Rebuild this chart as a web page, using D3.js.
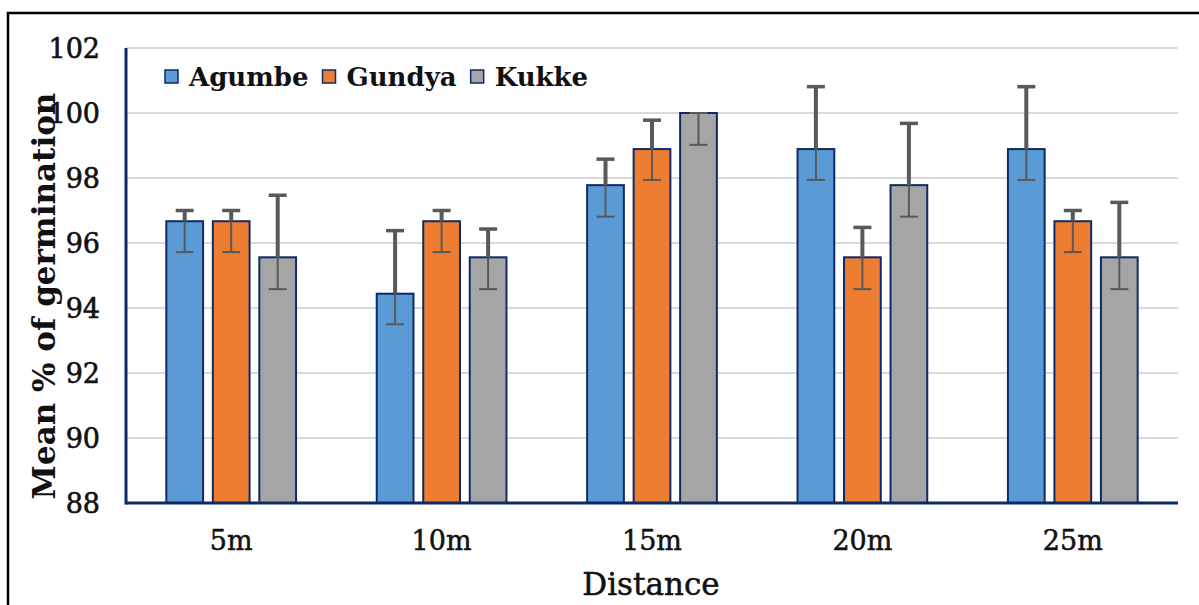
<!DOCTYPE html>
<html><head><meta charset="utf-8">
<script src="https://cdn.jsdelivr.net/npm/d3@7"></script>
<style>body{margin:0;background:#fff}svg{display:block}</style>
</head><body>
<svg id="c" width="1199" height="605"></svg>
<script>
const categories = ["5m","10m","15m","20m","25m"];
const seriesNames = ["Agumbe","Gundya","Kukke"];
const agumbe = [96.67, 94.44, 97.78, 98.89, 98.89];
const gundya = [96.67, 96.67, 98.89, 95.56, 96.67];
const kukke  = [95.56, 95.56, 100.0, 97.78, 95.56];
const agumbeHi = [97.0, 96.38, 98.58, 100.81, 100.81];
const agumbeLo = [95.72, 93.5, 96.81, 97.94, 97.94];
const gundyaHi = [97.0, 97.0, 99.78, 96.48, 97.0];
const gundyaLo = [95.72, 95.72, 97.94, 94.58, 95.72];
const kukkeHi = [97.47, 96.43, 100.0, 99.68, 97.25];
const kukkeLo = [94.58, 94.58, 99.02, 96.81, 94.58];
const yTicks = [88, 90, 92, 94, 96, 98, 100, 102];
const colors = ["#5B9BD5", "#ED7D31", "#A5A5A5"];

const values = [agumbe, gundya, kukke];
const his = [agumbeHi, gundyaHi, kukkeHi];
const los = [agumbeLo, gundyaLo, kukkeLo];

const svg = d3.select("#c");
const font = "'DejaVu Serif', serif";
const L = 126, R = 1178, T = 48, B = 503;

// outer frame
svg.append("rect").attr("x", 8).attr("y", 13).attr("width", 1200).attr("height", 600)
  .attr("fill", "none").attr("stroke", "#000").attr("stroke-width", 2.5);

const y = d3.scaleLinear().domain([88, 102]).range([B, T]);
const x0 = d3.scaleBand().domain(categories).range([L, R]).paddingInner(0.337).paddingOuter(0.1685);
const x1 = d3.scaleBand().domain(seriesNames).range([0, x0.bandwidth()]).paddingInner(0.21).paddingOuter(0.105);

// gridlines
svg.append("g").selectAll("line").data(yTicks.filter(t => t > 88)).join("line")
  .attr("x1", L).attr("x2", R).attr("y1", d => y(d)).attr("y2", d => y(d))
  .attr("stroke", "#d9d9d9").attr("stroke-width", 2);

// bars
const rows = [];
categories.forEach((c, i) => seriesNames.forEach((s, j) => rows.push({c, s, j, v: values[j][i], hi: his[j][i], lo: los[j][i]})));
svg.append("g").selectAll("rect").data(rows).join("rect")
  .attr("x", d => x0(d.c) + x1(d.s)).attr("width", x1.bandwidth())
  .attr("y", d => y(d.v)).attr("height", d => B - y(d.v))
  .attr("fill", d => colors[d.j]).attr("stroke", "#0d2a66").attr("stroke-width", 2);

// error bars
const eb = svg.append("g").attr("stroke", "#595959");
rows.forEach(d => {
  const cx = x0(d.c) + x1(d.s) + x1.bandwidth() / 2;
  if (d.hi > d.v) {
    eb.append("line").attr("x1", cx).attr("x2", cx).attr("y1", y(d.hi)).attr("y2", y(d.v)).attr("stroke-width", 4);
  }
  eb.append("line").attr("x1", cx).attr("x2", cx).attr("y1", y(d.v)).attr("y2", y(d.lo)).attr("stroke-width", 2);
  eb.append("line").attr("x1", cx - 9).attr("x2", cx + 9).attr("y1", y(d.hi)).attr("y2", y(d.hi)).attr("stroke-width", d.hi > d.v ? 3.5 : 2);
  eb.append("line").attr("x1", cx - 9).attr("x2", cx + 9).attr("y1", y(d.lo)).attr("y2", y(d.lo)).attr("stroke-width", 2);
});

// axes lines
svg.append("line").attr("x1", L).attr("x2", L).attr("y1", T).attr("y2", B + 1.5).attr("stroke", "#0d2a66").attr("stroke-width", 3);
svg.append("line").attr("x1", L).attr("x2", R).attr("y1", B).attr("y2", B).attr("stroke", "#0d2a66").attr("stroke-width", 3);

// y tick labels
svg.append("g").selectAll("text").data(yTicks).join("text")
  .attr("x", 100).attr("y", d => y(d)).attr("text-anchor", "end").attr("dominant-baseline", "central")
  .attr("font-family", font).attr("font-size", 27).attr("fill", "#111")
  .attr("stroke", "#111").attr("stroke-width", 0.6).text(d => d);

// x tick labels
svg.append("g").selectAll("text").data(categories).join("text")
  .attr("x", d => x0(d) + x0.bandwidth() / 2).attr("y", 540).attr("text-anchor", "middle").attr("dominant-baseline", "central")
  .attr("font-family", font).attr("font-size", 27).attr("fill", "#111")
  .attr("stroke", "#111").attr("stroke-width", 0.5).text(d => d);

// axis titles
svg.append("text").attr("x", 651).attr("y", 584).attr("text-anchor", "middle").attr("dominant-baseline", "central")
  .attr("font-family", font).attr("font-size", 31).attr("fill", "#111")
  .attr("stroke", "#111").attr("stroke-width", 0.5).text("Distance");
svg.append("text").attr("transform", "translate(44,296) rotate(-90)").attr("text-anchor", "middle").attr("dominant-baseline", "central")
  .attr("font-family", font).attr("font-size", 31).attr("font-weight", "bold").attr("fill", "#111").text("Mean % of germination");

// legend
let lx = 165;
seriesNames.forEach((s, j) => {
  svg.append("rect").attr("x", lx).attr("y", 70).attr("width", 13).attr("height", 13)
    .attr("fill", colors[j]).attr("stroke", "#0d2a66").attr("stroke-width", 1.5);
  const t = svg.append("text").attr("x", lx + 24).attr("y", 77).attr("dominant-baseline", "central")
    .attr("font-family", font).attr("font-size", 26).attr("font-weight", "bold").attr("fill", "#111").text(s);
  lx += 24 + t.node().getComputedTextLength() + 14;
});
</script>
</body></html>
